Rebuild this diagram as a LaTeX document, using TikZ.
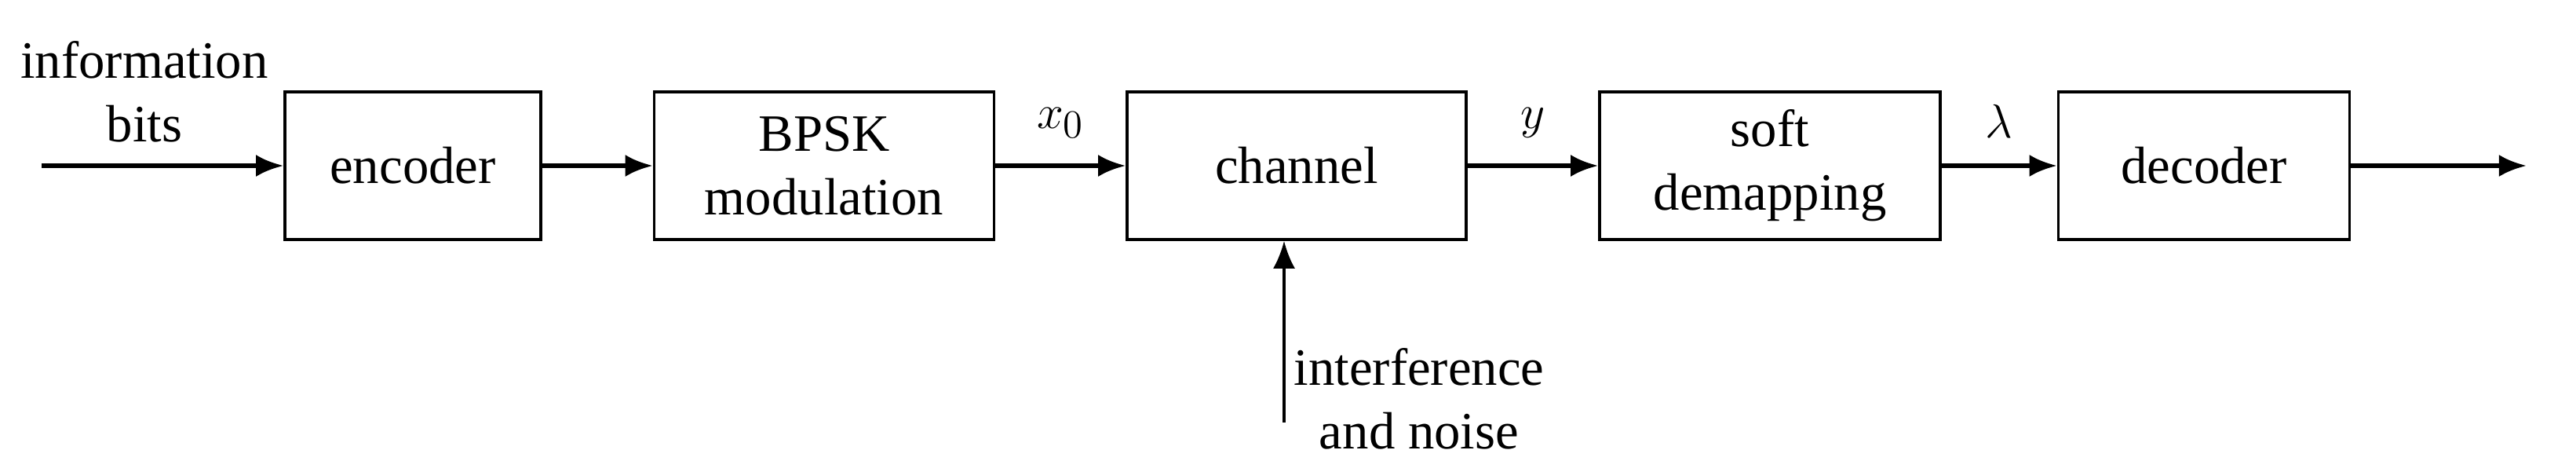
\documentclass[tikz,border=0pt]{standalone}
\usepackage{fontspec}
\setmainfont{Liberation Serif}
\usetikzlibrary{arrows.meta}
\tikzset{
    block/.style={draw, line width=1pt, minimum height=1.88cm, align=center, inner sep=0pt},
    flow/.style={-{Latex[length=10pt,width=8pt]}, line width=1.6pt},
    lbl/.style={align=center, inner sep=0pt}
}
\begin{document}
\begin{tikzpicture}[font=\fontsize{19}{23}\selectfont]
\useasboundingbox (0,0) rectangle (32.82,-6);
\node[block,minimum width=3.26cm] (enc) at (5.26,-2.11) {encoder};
\node[block,minimum width=4.33cm] (mod) at (10.50,-2.11) {BPSK\\modulation};
\node[block,minimum width=4.32cm] (ch) at (16.52,-2.11) {channel};
\node[block,minimum width=4.34cm] (dem) at (22.55,-2.11) {soft\\demapping};
\node[block,minimum width=3.71cm] (dec) at (28.08,-2.11) {decoder};
\coordinate (in) at (0.53,-2.11);
\coordinate (out) at (32.19,-2.11);
\coordinate (nz) at (16.36,-5.38);
\node[lbl] (info) at (1.84,-1.17) {information\\bits};
\node[lbl] (intf) at (18.08,-5.08) {interference\\and noise};
\draw[flow] (in) -- (enc);
\draw[flow] (enc) -- (mod);
\draw[flow] (mod) -- node[above=6pt] {$x_0$} (ch);
\draw[flow] (ch) -- node[above=6pt] {$y$} (dem);
\draw[flow] (dem) -- node[above=6pt] {$\lambda$} (dec);
\draw[flow] (dec) -- (out);
\draw[-{Latex[length=10pt,width=8pt]}, line width=1pt] (nz) -- (ch.south -| nz);
\end{tikzpicture}
\end{document}
